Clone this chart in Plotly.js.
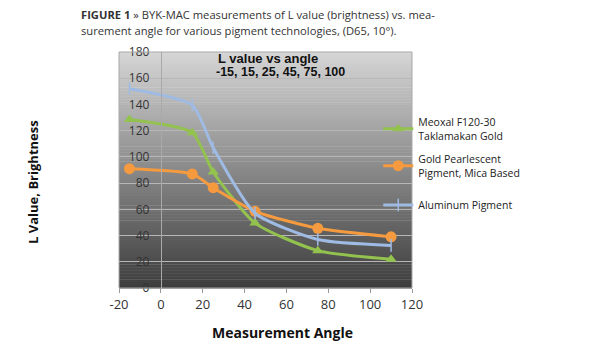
<!DOCTYPE html>
<html>
<head>
<meta charset="utf-8">
<script src="https://cdn.plot.ly/plotly-3.0.1.min.js"></script>
<style>
html,body{margin:0;padding:0;background:#fff;}
#chart{width:615px;height:350px;}
</style>
</head>
<body>
<div id="chart"></div>
<script>
// Data
var angles = [-15, 15, 25, 45, 75, 110];
var meoxal = [128.5, 118.5, 88.5, 49.5, 28.5, 22];
var goldPearl = [91, 87, 76.5, 58.5, 45.5, 39];
var aluminum = [152, 139.5, 107, 57, 37, 32.5];
var seriesNames = ["Meoxal F120-30<br>Taklamakan Gold", "Gold Pearlescent<br>Pigment, Mica Based", "Aluminum Pigment"];
var xTicks = [-20, 0, 20, 40, 60, 80, 100, 120];
var xTickText = ['-20', '0', '20', '40', '60', '80', '100', '120'];
var yTicks = [0, 20, 40, 60, 80, 100, 120, 140, 160, 180];

var font = "'Open Sans', 'Noto Sans', sans-serif";

// plot area in pixels: x 119..411.7, y 52..288
var PL = 119, PW = 292.7, PB = 288, PH = 236;
function px(x) { return (x - PL) / PW; }
function py(y) { return (PB - y) / PH; }

var traces = [
  {x: angles, y: meoxal, name: seriesNames[0], mode: 'lines+markers', legend: 'legend',
   line: {color: '#93c24f', width: 3, shape: 'spline', smoothing: 0.6},
   marker: {symbol: 'triangle-up', size: 10, color: '#93c24f'}},
  {x: angles, y: goldPearl, name: seriesNames[1], mode: 'lines+markers', legend: 'legend2',
   line: {color: '#f59a3e', width: 3, shape: 'spline', smoothing: 0.6},
   marker: {symbol: 'circle', size: 11, color: '#f59a3e'}},
  {x: angles, y: aluminum, name: seriesNames[2], mode: 'lines+markers', legend: 'legend3',
   line: {color: '#9fbbe3', width: 3, shape: 'spline', smoothing: 0.6},
   marker: {symbol: 'line-ns-open', size: 9, color: '#9fbbe3', line: {color: '#9fbbe3', width: 1.5}}}
];

// gradient background stripes
var shapes = [];
var N = 80;
var gradTop = [214, 214, 214], gradBot = [60, 60, 60];
for (var i = 0; i < N; i++) {
  var f = (i + 0.5) / N; // from top
  var c = gradTop.map(function (t, k) { return Math.round(t + (gradBot[k] - t) * f); });
  shapes.push({type: 'rect', xref: 'paper', yref: 'paper', x0: 0, x1: 1,
    y0: 1 - (i + 1) / N - 0.002, y1: 1 - i / N, layer: 'below',
    fillcolor: 'rgb(' + c.join(',') + ')', line: {width: 0}});
}
shapes.push({type: 'rect', xref: 'paper', yref: 'paper', x0: 0, x1: 1, y0: 0, y1: 1,
  layer: 'above', line: {color: '#a9a9a9', width: 1}, fillcolor: 'rgba(0,0,0,0)'});

function legendAt(yc) {
  return {x: px(378), xanchor: 'left', y: py(yc), yanchor: 'middle', itemwidth: 30,
    font: {family: font, size: 10.5, color: '#222'}, bgcolor: 'rgba(0,0,0,0)', valign: 'middle'};
}

var layout = {
  width: 615, height: 350,
  margin: {l: PL, r: 615 - PL - PW, t: 52, b: 350 - PB},
  paper_bgcolor: '#ffffff',
  plot_bgcolor: 'rgba(0,0,0,0)',
  showlegend: true,
  legend: legendAt(129),
  legend2: legendAt(166),
  legend3: legendAt(205),
  xaxis: {range: [-20, 120], tickvals: xTicks, ticktext: xTickText, ticks: 'outside', ticklen: 4, tickcolor: '#999',
    showgrid: false, zeroline: false, showline: true, linecolor: '#999',
    tickfont: {family: font, size: 13, color: '#333'}, fixedrange: true},
  yaxis: {range: [0, 180], tickvals: yTicks, anchor: 'free', position: 20 / 140,
    showgrid: true, gridcolor: '#b7b7b7', gridwidth: 1, zeroline: false,
    showline: true, linecolor: '#a9a9a9', ticks: '', ticklabelstandoff: 9,
    tickfont: {family: font, size: 12, color: '#333'}, fixedrange: true},
  shapes: shapes,
  annotations: [
    {xref: 'paper', yref: 'paper', x: px(268), y: py(58), xanchor: 'center', yanchor: 'middle',
     text: '<b>L value vs angle</b>', showarrow: false,
     font: {family: "'Liberation Sans', Arial, sans-serif", size: 13, color: '#111'}},
    {xref: 'paper', yref: 'paper', x: px(280), y: py(72), xanchor: 'center', yanchor: 'middle',
     text: '<b>-15, 15, 25, 45, 75, 100</b>', showarrow: false,
     font: {family: "'Liberation Sans', Arial, sans-serif", size: 12.5, color: '#111'}},
    {xref: 'paper', yref: 'paper', x: px(282), y: py(332), xanchor: 'center', yanchor: 'middle',
     text: '<b>Measurement Angle</b>', showarrow: false,
     font: {family: font, size: 14, color: '#111'}},
    {xref: 'paper', yref: 'paper', x: px(33), y: py(182), xanchor: 'center', yanchor: 'middle',
     text: '<b>L Value, Brightness</b>', showarrow: false, textangle: -90,
     font: {family: font, size: 13, color: '#111'}},
    {xref: 'paper', yref: 'paper', x: px(79), y: py(14.5), xanchor: 'left', yanchor: 'middle', align: 'left',
     text: '<b>FIGURE 1</b> » BYK-MAC measurements of L value (brightness) vs. mea-',
     showarrow: false, font: {family: font, size: 11.2, color: '#333'}},
    {xref: 'paper', yref: 'paper', x: px(79), y: py(30), xanchor: 'left', yanchor: 'middle', align: 'left',
     text: 'surement angle for various pigment technologies, (D65, 10°).',
     showarrow: false, font: {family: font, size: 11.2, color: '#333'}}
  ]
};

Plotly.newPlot('chart', traces, layout, {displayModeBar: false, staticPlot: true});
</script>
</body>
</html>
